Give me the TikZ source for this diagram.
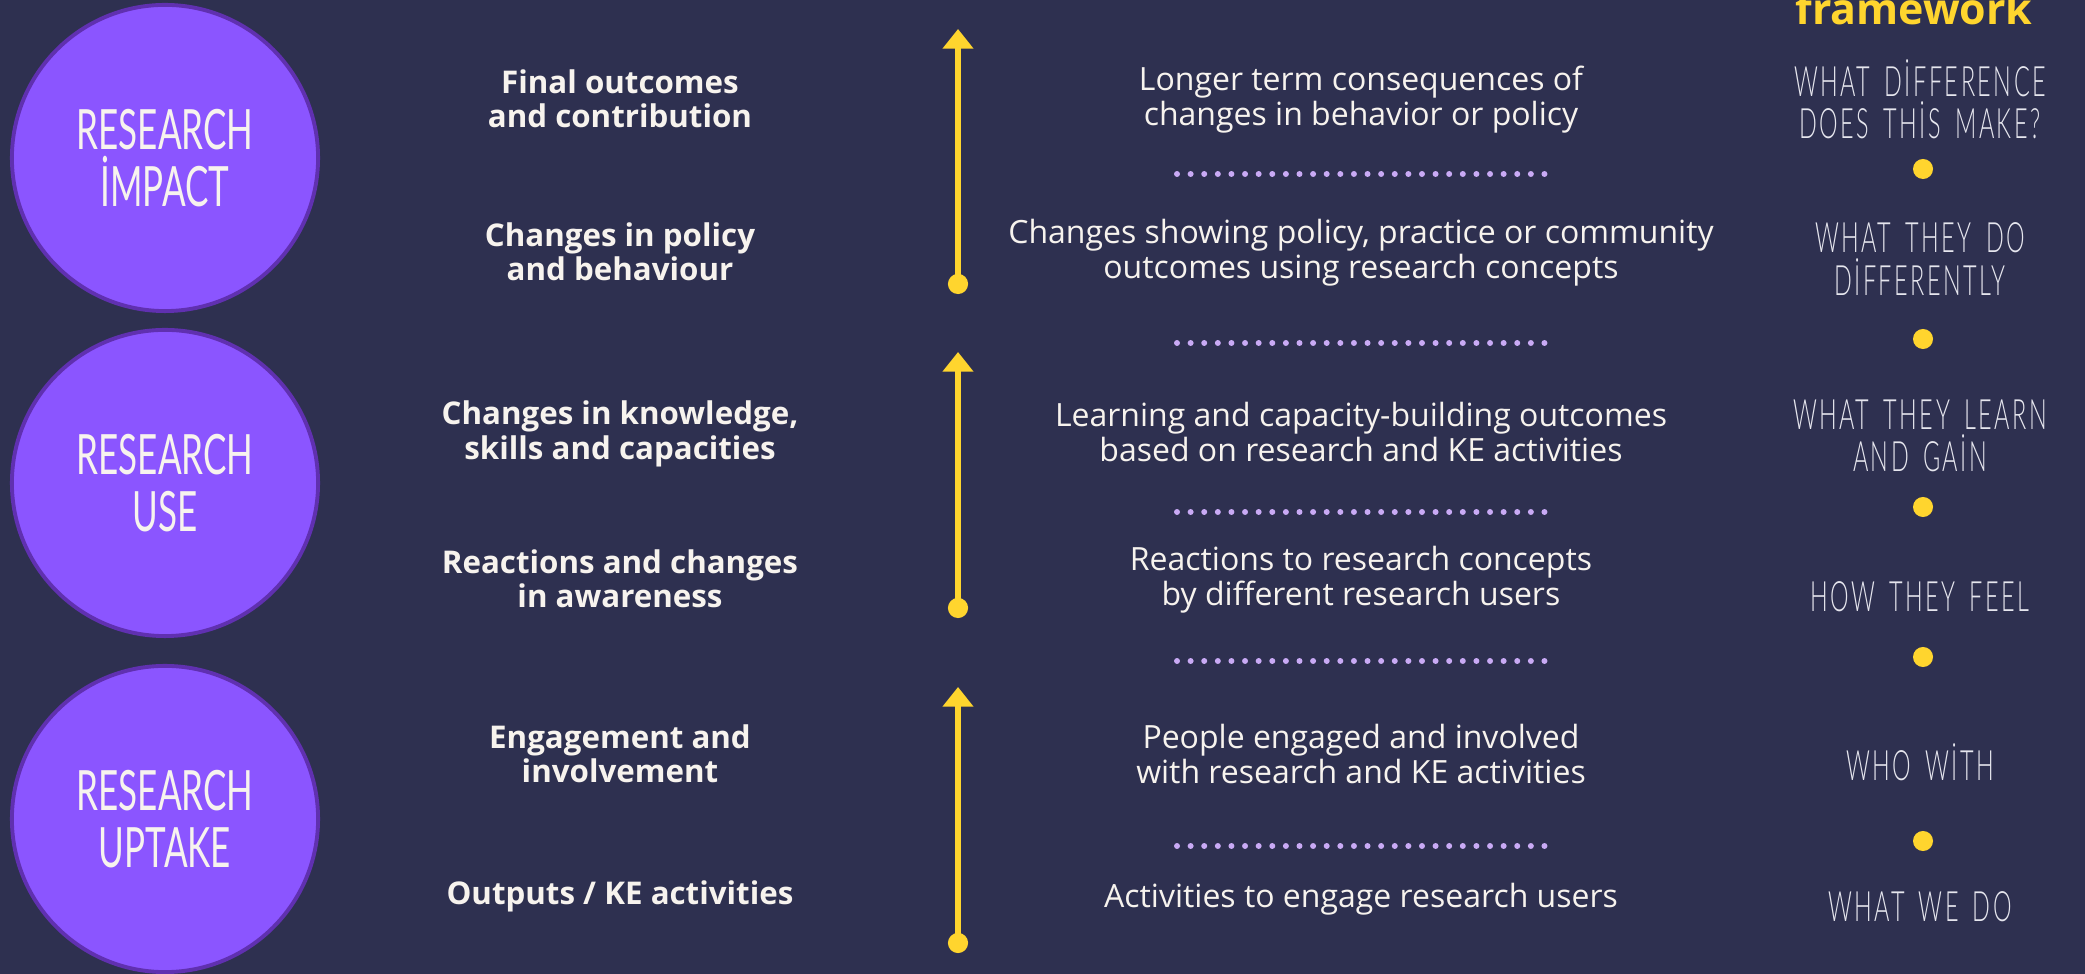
\documentclass[tikz,border=0pt]{standalone}
\usepackage{fontspec}
\setmainfont{Open Sans}
\newfontfamily\sketchfont[FakeStretch=0.63]{Lato}
\newfontfamily\thinfont[FakeStretch=0.56,LetterSpace=6,WordSpace=1.6]{Lato Light}
\usepackage{tikz}
\usetikzlibrary{
        arrows.meta,
        positioning,
        shapes
    }
\definecolor{navy}{HTML}{2E3050}
\definecolor{stagefill}{HTML}{8B55FF}
\definecolor{stageedge}{HTML}{6030B0}
\definecolor{gold}{HTML}{FFD52E}
\definecolor{lilac}{HTML}{C9AAF5}
\definecolor{cream}{HTML}{F7F3EE}
\definecolor{pale}{HTML}{E6E6EE}
\tikzset{x=0.01cm,y=-0.01cm}
\tikzset{stagecircle/.style={circle,draw=stageedge,line width=1.1pt,fill=stagefill,minimum size=3.06cm,inner sep=0pt,text=cream,align=center,font=\sketchfont\fontsize{15.8pt}{16.2pt}\selectfont}}
\tikzset{pathway/.style={align=center,inner sep=0pt,text=cream,font=\bfseries\fontsize{8.9pt}{9.8pt}\selectfont}}
\tikzset{meaning/.style={align=center,inner sep=0pt,text=cream,font=\fontsize{9.1pt}{10pt}\selectfont}}
\tikzset{question/.style={align=center,inner sep=0pt,text=pale,font=\thinfont\fontsize{11.9pt}{12pt}\selectfont}}
\tikzset{gdot/.style={circle,fill=gold,inner sep=0pt,minimum size=5.7pt}}
\tikzset{risearrow/.style={draw=gold,line width=1.8pt,{Circle[length=5.7pt]}-{Triangle[width=8.5pt,length=5.6pt]}}}
\tikzset{divider/.style={draw=lilac,line width=1.7pt,line cap=round,dash pattern=on 0pt off 3.87pt}}

\begin{document}
\begin{tikzpicture}
        \fill[navy] (0,0) rectangle (2085,974);
        \useasboundingbox (0,0) rectangle (2085,974);

        \node[stagecircle] (impact) at (165,158) {RESEARCH\\İMPACT};
        \node[stagecircle] (use) at (165,483) {RESEARCH\\USE};
        \node[stagecircle] (uptake) at (165,819) {RESEARCH\\UPTAKE};

        \node[pathway] (outcomes) at (620,99) {Final outcomes\\and contribution};
        \node[pathway] (policy) at (620,252) {Changes in policy\\and behaviour};
        \node[pathway] (knowledge) at (620,434) {Changes in knowledge,\\skills and capacities};
        \node[pathway] (reactions) at (620,579) {Reactions and changes\\in awareness};
        \node[pathway] (engagement) at (620,754) {Engagement and\\involvement};
        \node[pathway] (outputs) at (620,896) {Outputs / KE activities};

        % arrows up through each stage
        \coordinate (upA) at (958,294);
        \coordinate (topA) at (958,29);
        \coordinate (upB) at (958,618);
        \coordinate (topB) at (958,352);
        \coordinate (upC) at (958,953);
        \coordinate (topC) at (958,687);
        \draw[risearrow] (upA) -- (topA);
        \draw[risearrow] (upB) -- (topB);
        \draw[risearrow] (upC) -- (topC);

        \node[meaning] (longterm) at (1361,100) {Longer term consequences of\\changes in behavior or policy};
        \node[meaning] (showing) at (1361,253) {Changes showing policy, practice or community\\outcomes using research concepts};
        \node[meaning] (learning) at (1361,432) {Learning and capacity-building outcomes\\based on research and KE activities};
        \node[meaning] (responses) at (1361,580) {Reactions to research concepts\\by different research users};
        \node[meaning] (engaged) at (1361,754) {People engaged and involved\\with research and KE activities};
        \node[meaning] (activities) at (1361,899) {Activities to engage research users};

        \draw[divider] (1177,174) -- (1545,174);
        \draw[divider] (1177,343) -- (1545,343);
        \draw[divider] (1177,512) -- (1545,512);
        \draw[divider] (1177,661) -- (1545,661);
        \draw[divider] (1177,846) -- (1545,846);

        \node[anchor=base,inner sep=0pt,text=gold,font=\bfseries\fontsize{12.2pt}{13pt}\selectfont] (framework) at (1914,25) {framework};
        \node[question] (qdiff) at (1920,99) {WHAT DİFFERENCE\\DOES THİS MAKE?};
        \node[gdot] (dotA) at (1923,169) {};
        \node[question] (qdo) at (1920,259) {WHAT THEY DO\\DİFFERENTLY};
        \node[gdot] (dotB) at (1923,339) {};
        \node[question] (qlearn) at (1920,436) {WHAT THEY LEARN\\AND GAİN};
        \node[gdot] (dotC) at (1923,507) {};
        \node[question] (qfeel) at (1920,597) {HOW THEY FEEL};
        \node[gdot] (dotD) at (1923,657) {};
        \node[question] (qwho) at (1920,762) {WHO WİTH};
        \node[gdot] (dotE) at (1923,841) {};
        \node[question] (qwhat) at (1920,907) {WHAT WE DO};
    \end{tikzpicture}
\end{document}
